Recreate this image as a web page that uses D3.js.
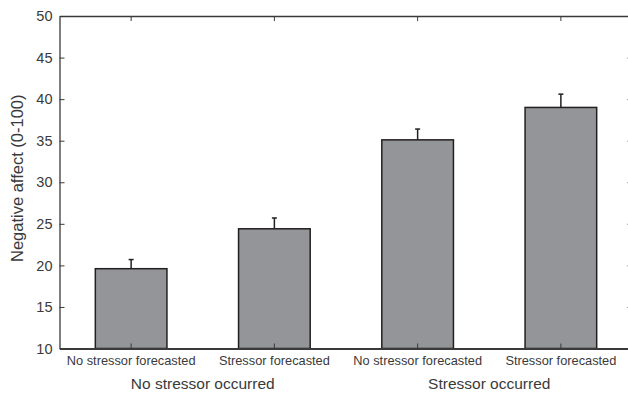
<!DOCTYPE html>
<html>
<head>
    <title>Negative affect</title>
    <script src="https://d3js.org/d3.v7.min.js"></script>
    <style>
        body { margin: 0; background: #fff; }
        text { font-family: "Liberation Sans", Arial, sans-serif; fill: #3a3a3a; }
    </style>
</head>
<body>
    <svg width="628" height="395" id="mainSvg"></svg>
    <script>
        // data
        const categories = ["No stressor forecasted", "Stressor forecasted", "No stressor forecasted", "Stressor forecasted"];
        const groups = ["No stressor occurred", "Stressor occurred"];
        const means = [19.6, 24.4, 35.1, 39.0];
        const errors = [1.1, 1.3, 1.3, 1.6];
        const yTicks = [10, 15, 20, 25, 30, 35, 40, 45, 50];

        const svg = d3.select("#mainSvg");
        const margin = {top: 16, right: -4.5, bottom: 46.5, left: 59.5};
        const width = 628 - margin.left - margin.right;
        const height = 395 - margin.top - margin.bottom;

        const g = svg.append("g").attr("transform", `translate(${margin.left},${margin.top})`);

        const x = d3.scaleBand().domain(d3.range(categories.length)).range([0, width]).padding(0.5).paddingOuter(0.25);
        const y = d3.scaleLinear().domain([10, 50]).range([height, 0]);

        const axisColor = "#3a3a3a";

        // bars
        g.selectAll(".bar").data(means).join("rect")
            .attr("class", "bar")
            .attr("x", (d, i) => x(i))
            .attr("y", d => y(d))
            .attr("width", x.bandwidth())
            .attr("height", d => y(10) - y(d))
            .attr("fill", "#939598")
            .attr("stroke", "#231f20")
            .attr("stroke-width", 1.5);

        // error bars (upper only)
        const cx = i => x(i) + x.bandwidth() / 2;
        g.selectAll(".err").data(means).join("line")
            .attr("class", "err")
            .attr("x1", (d, i) => cx(i)).attr("x2", (d, i) => cx(i))
            .attr("y1", d => y(d)).attr("y2", (d, i) => y(d + errors[i]))
            .attr("stroke", "#231f20").attr("stroke-width", 1.5);
        g.selectAll(".cap").data(means).join("line")
            .attr("class", "cap")
            .attr("x1", (d, i) => cx(i) - 2.5).attr("x2", (d, i) => cx(i) + 2.5)
            .attr("y1", (d, i) => y(d + errors[i])).attr("y2", (d, i) => y(d + errors[i]))
            .attr("stroke", "#231f20").attr("stroke-width", 1.5);

        // axes
        const styleAxis = sel => {
            sel.select(".domain").attr("stroke", axisColor).attr("stroke-width", 1.3);
            sel.selectAll(".tick line").attr("stroke", axisColor).attr("stroke-width", 1);
        };

        g.append("g")
            .call(d3.axisLeft(y).tickValues(yTicks).tickSizeInner(-5).tickSizeOuter(0).tickPadding(7))
            .call(styleAxis)
            .call(a => a.selectAll("text").attr("font-size", 14.5).attr("fill", "#3a3a3a"));

        g.append("g").attr("transform", `translate(${width},0)`)
            .call(d3.axisRight(y).tickValues(yTicks).tickSizeInner(-5).tickSizeOuter(0).tickFormat(""))
            .call(styleAxis);

        g.append("g")
            .call(d3.axisTop(x).tickSizeInner(-5).tickSizeOuter(0).tickFormat(""))
            .call(styleAxis);

        g.append("g").attr("transform", `translate(0,${height})`)
            .call(d3.axisBottom(x).tickSizeInner(-5).tickSizeOuter(0).tickFormat(i => categories[i]).tickPadding(7))
            .call(styleAxis)
            .call(a => a.select(".domain").attr("stroke-width", 2))
            .call(a => a.selectAll("text").attr("font-size", 12.8).attr("fill", "#3a3a3a"));

        // group labels
        g.selectAll(".group").data(groups).join("text")
            .attr("class", "group")
            .attr("text-anchor", "middle")
            .attr("font-size", 15.5)
            .attr("x", (d, i) => (cx(2 * i) + cx(2 * i + 1)) / 2)
            .attr("y", height + 40)
            .text(d => d);

        // y label
        svg.append("text")
            .attr("transform", `translate(23,${margin.top + height / 2 - 4}) rotate(-90)`)
            .attr("text-anchor", "middle")
            .attr("font-size", 16.5)
            .text("Negative affect (0-100)");
    </script>
</body>
</html>
